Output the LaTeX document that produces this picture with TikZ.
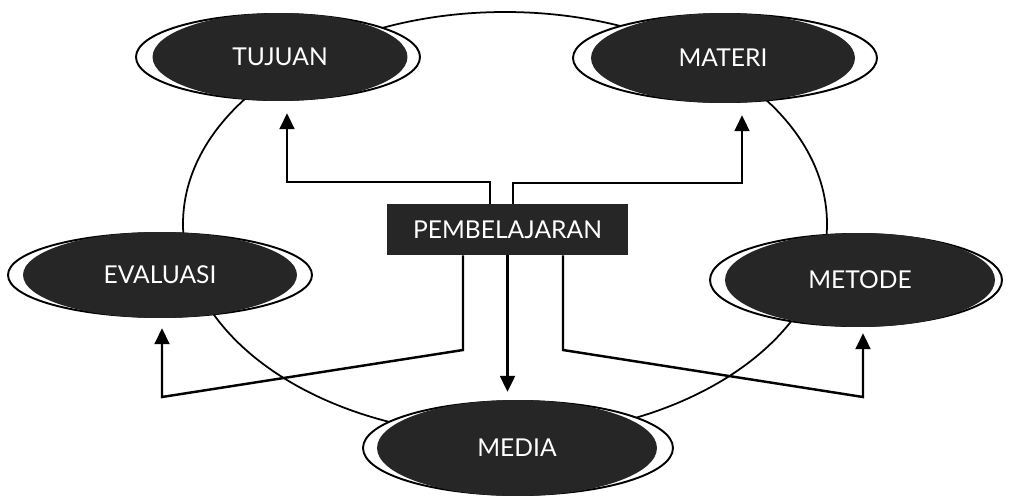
\documentclass[tikz,border=0pt]{standalone}
\usepackage{fontspec}
\newfontfamily\lbl{Lato}
\usetikzlibrary{shapes.geometric,arrows.meta}
\definecolor{darkfill}{HTML}{262626}
\tikzset{
  bubble/.style={ellipse, inner sep=0pt, fill=darkfill, text=white, font=\lbl\fontsize{14}{16}\selectfont},
  ringline/.style={draw=black, line width=1.1pt, fill=white},
  bigring/.style={draw=black, line width=1pt},
  centerbox/.style={rectangle, inner sep=0pt, fill=darkfill, text=white, minimum width=4.82cm, minimum height=1.02cm, font=\lbl\fontsize{14}{16}\selectfont},
  arr/.style={draw=black, line width=1.4pt, -{Triangle[width=8.5pt,length=9pt]}}
}
\begin{document}
\begin{tikzpicture}[x=0.02cm,y=-0.02cm]
\useasboundingbox (0,0) rectangle (1012,495);
% big connecting circle
\draw[bigring] (505,224) ellipse [x radius=322, y radius=212];
% outer rings
\draw[ringline] (278,57) ellipse [x radius=142, y radius=43];
\draw[ringline] (725,58) ellipse [x radius=152, y radius=44];
\draw[ringline] (160,275) ellipse [x radius=152, y radius=42];
\draw[ringline] (856,280) ellipse [x radius=146, y radius=46];
\draw[ringline] (518,448) ellipse [x radius=155, y radius=47];
% bubbles
\node[bubble, minimum width=5.1cm, minimum height=1.76cm] (tuj) at (280,57) {TUJUAN};
\node[bubble, minimum width=5.28cm, minimum height=1.8cm] (mat) at (723,58) {MATERI};
\node[bubble, minimum width=5.48cm, minimum height=1.72cm] (eva) at (160,275) {EVALUASI};
\node[bubble, minimum width=5.4cm, minimum height=1.88cm] (met) at (860,280) {METODE};
\node[bubble, minimum width=5.6cm, minimum height=1.92cm] (med) at (517,448) {MEDIA};
\node[centerbox] (pb) at (507.5,229.5) {PEMBELAJARAN};
% bend points
\coordinate (k1) at (490,182);
\coordinate (k2) at (287,182);
\coordinate (k3) at (513,183);
\coordinate (k4) at (742,183);
\coordinate (k5) at (463,350);
\coordinate (k6) at (162,397);
\coordinate (k8) at (563,350);
\coordinate (k9) at (863,397);
% arrows
\draw[arr, shorten >=0.24cm] (pb.north -| k1) -- (k1) -- (k2) -- (tuj.south -| k2);
\draw[arr, shorten >=0.24cm] (pb.north -| k3) -- (k3) -- (k4) -- (mat.south -| k4);
\draw[arr, shorten >=0.2cm] (pb.south -| k5) -- (k5) -- (k6) -- (eva.south -| k6);
\draw[arr, shorten >=0.16cm] (pb.south) -- (pb.south |- med.north);
\draw[arr, shorten >=0.12cm] (pb.south -| k8) -- (k8) -- (k9) -- (met.south -| k9);
\end{tikzpicture}
\end{document}
